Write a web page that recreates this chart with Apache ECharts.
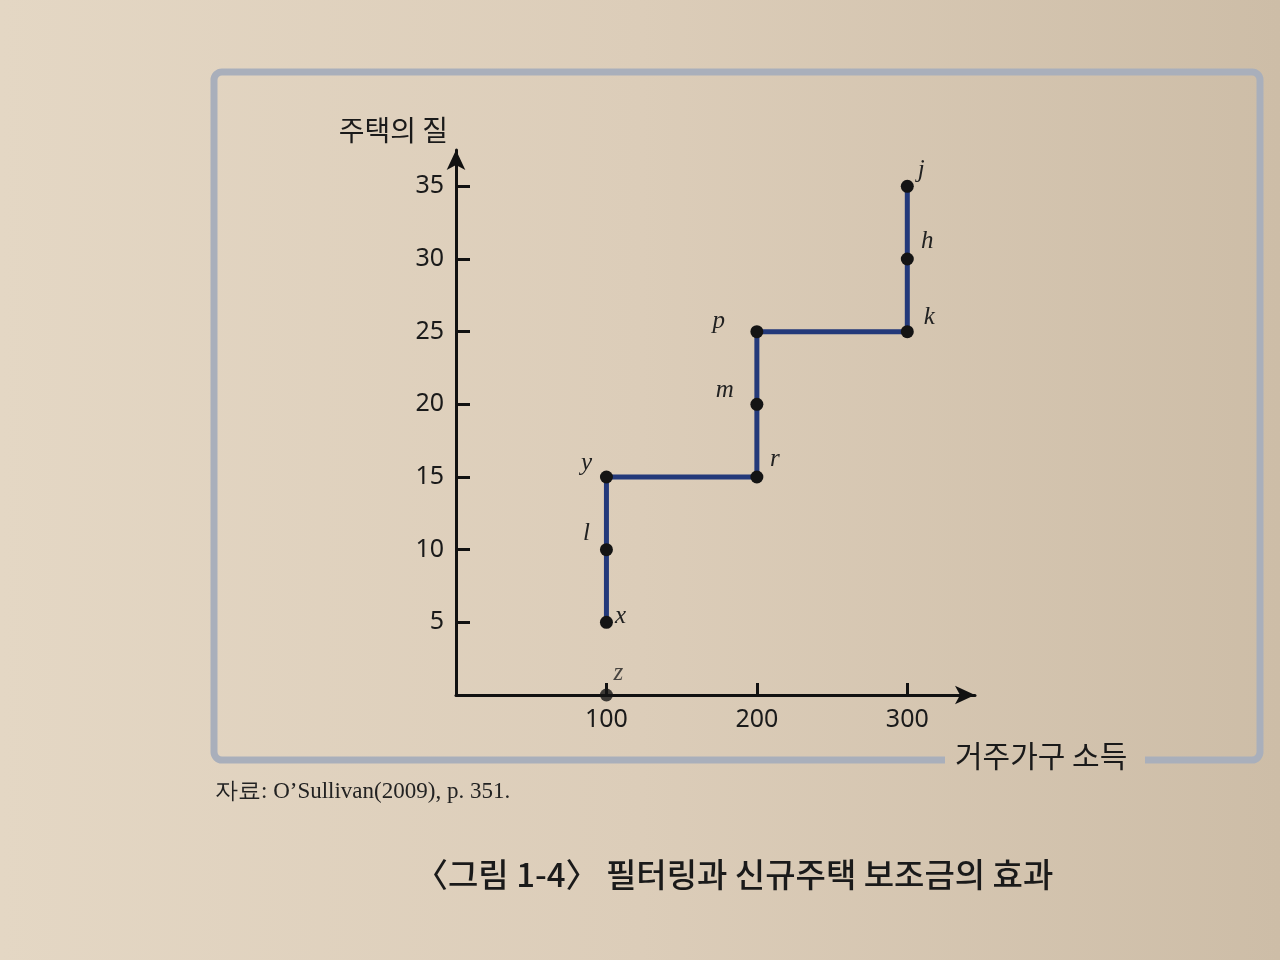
<!DOCTYPE html>
<html>
<head>
<meta charset="utf-8">
<script src="https://cdn.jsdelivr.net/npm/echarts@6/dist/echarts.min.js"></script>
<style>
html,body{margin:0;padding:0;}
#chart{width:1280px;height:960px;}
</style>
</head>
<body>
<div id="chart"></div>
<script>
// ---- data ----
const pointNames = ['x', 'l', 'y', 'r', 'm', 'p', 'k', 'h', 'j'];
const incomes    = [100, 100, 100, 200, 200, 200, 300, 300, 300];
const qualities  = [5, 10, 15, 15, 20, 25, 25, 30, 35];
const originName = 'z';
const originIncome = 100;
const originQuality = 0;
const xTicks = [100, 200, 300];
const yTicks = [5, 10, 15, 20, 25, 30, 35];
const yAxisTitle = '주택의 질';
const xAxisTitle = '거주가구 소득';
const sourceText = '자료: O\u2019Sullivan(2009), p. 351.';
const captionText = '〈그림 1-4〉 필터링과 신규주택 보조금의 효과';

// label offsets (styling)
const labelOffsets = {
  x: [14, -6], l: [-20, -16], y: [-20, -14], r: [18, -18], m: [-32, -14],
  p: [-38, -10], k: [22, -14], h: [20, -18], j: [14, -16], z: [12, -22]
};

const labelFont = {
  fontFamily: 'Liberation Serif', fontStyle: 'italic', fontSize: 25, color: '#222'
};

const pageGradient = (global) => ({
  type: 'linear', global: global,
  x: 0, y: 0, x2: global ? 1280 : 1, y2: 0,
  colorStops: [{ offset: 0, color: '#e4d7c4' }, { offset: 0.5, color: '#dccdb9' }, { offset: 1, color: '#cdbda7' }]
});

const stepData = pointNames.map((n, i) => ({
  value: [incomes[i], qualities[i]],
  name: n,
  label: { show: true, position: 'inside', formatter: n, offset: labelOffsets[n], ...labelFont }
}));

const chart = echarts.init(document.getElementById('chart'));
chart.setOption({
  backgroundColor: pageGradient(false),
  animation: false,
  grid: { left: 456, top: 150, right: 305, bottom: 265, containLabel: false },
  xAxis: {
    type: 'value', min: 0, max: 345, interval: 100,
    name: xAxisTitle, nameLocation: 'end', nameGap: -20,
    nameTextStyle: { fontFamily: 'Noto Sans CJK KR', fontSize: 30, color: '#1a1a1a', align: 'left', verticalAlign: 'top', padding: [46, 0, 0, 0] },
    axisLine: { show: true, symbol: ['none', 'arrow'], symbolSize: [14, 20], lineStyle: { color: '#111', width: 3 } },
    axisTick: { show: true, inside: true, length: 12, lineStyle: { color: '#111', width: 3 },
      customValues: xTicks },
    axisLabel: { show: true, margin: 12, fontFamily: 'Noto Sans', fontSize: 25, color: '#1a1a1a',
      customValues: xTicks, formatter: v => (xTicks.includes(v) ? String(v) : '') },
    splitLine: { show: false }
  },
  yAxis: {
    type: 'value', min: 0, max: 37.5, interval: 5,
    name: yAxisTitle, nameLocation: 'end', nameGap: 6,
    nameTextStyle: { fontFamily: 'Noto Sans CJK KR', fontSize: 28, color: '#1a1a1a', align: 'right', verticalAlign: 'bottom', padding: [0, 8, 0, 0] },
    axisLine: { show: true, symbol: ['none', 'arrow'], symbolSize: [14, 20], lineStyle: { color: '#111', width: 3 } },
    axisTick: { show: true, inside: true, length: 14, lineStyle: { color: '#111', width: 3 },
      customValues: yTicks },
    axisLabel: { show: true, margin: 12, fontFamily: 'Noto Sans', fontSize: 25, color: '#1a1a1a',
      customValues: yTicks, formatter: v => (yTicks.includes(v) ? String(v) : '') },
    splitLine: { show: false }
  },
  graphic: [
    {
      type: 'rect', z: -10, silent: true,
      shape: { x: 214, y: 72, width: 1046, height: 688, r: 8 },
      style: { fill: 'rgba(0,0,0,0)', stroke: '#a9afbb', lineWidth: 7 }
    },
    {
      type: 'rect', z: -9, silent: true,
      shape: { x: 945, y: 750, width: 200, height: 16 },
      style: { fill: pageGradient(true) }
    },
    {
      type: 'text', left: 215, top: 780,
      style: { text: sourceText, fontFamily: 'Liberation Serif', fontSize: 23, fill: '#222' }
    },
    {
      type: 'text', left: 415, top: 858,
      style: { text: captionText, fontFamily: 'Noto Sans CJK KR', fontWeight: 500, fontSize: 33, fill: '#1a1a1a' }
    }
  ],
  series: [
    {
      type: 'line', data: stepData,
      lineStyle: { color: '#23397a', width: 5 },
      symbol: 'circle', symbolSize: 13,
      itemStyle: { color: '#141414' },
      z: 3
    },
    {
      type: 'scatter',
      data: [{ value: [originIncome, originQuality], name: originName,
        label: { show: true, position: 'inside', formatter: originName, offset: labelOffsets[originName], ...labelFont } }],
      symbol: 'circle', symbolSize: 13,
      itemStyle: { color: '#141414' },
      z: 4
    }
  ]
});
</script>
</body>
</html>
